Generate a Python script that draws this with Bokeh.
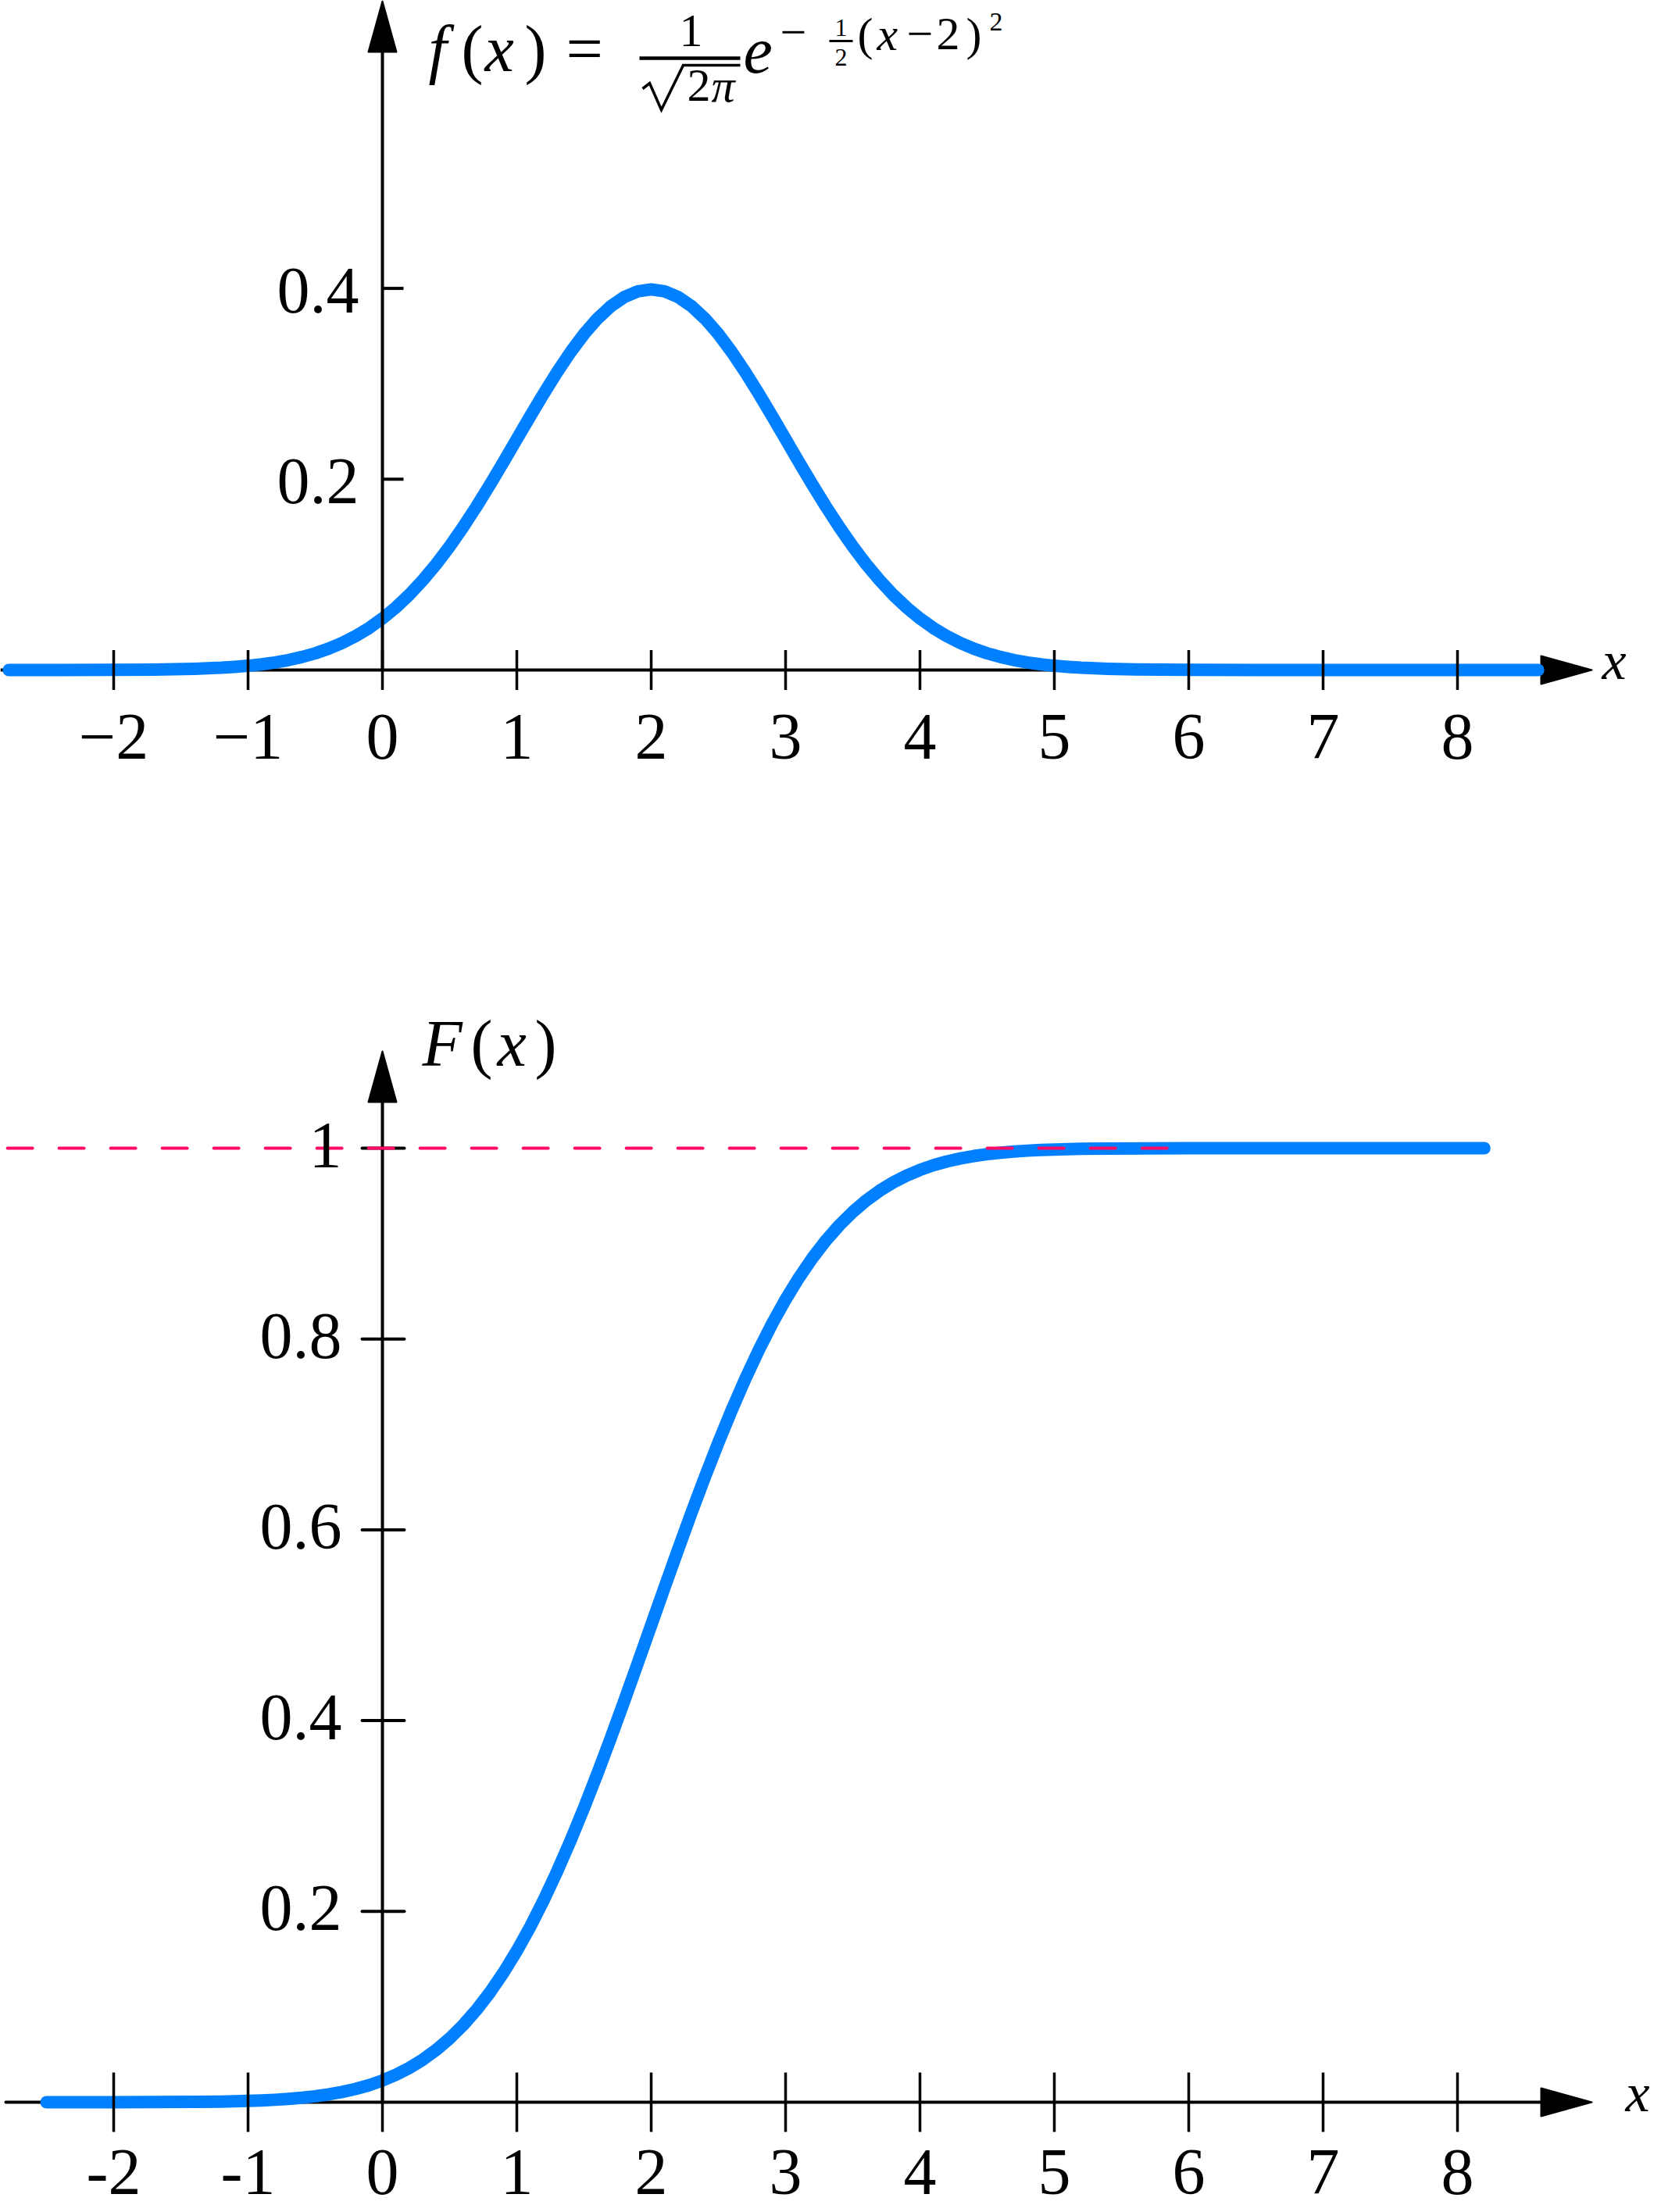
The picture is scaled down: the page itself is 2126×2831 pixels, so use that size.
from bokeh.plotting import figure
from bokeh.models import Range1d
from bokeh.embed import file_html
from bokeh.resources import INLINE
from bokeh.core.properties import value

# ---------------- data ----------------
pdf_x = [-2.78, -2.4, -2.0, -1.7, -1.4, -1.2, -1.1,
         -1.0, -0.9, -0.8, -0.7, -0.6, -0.5, -0.4, -0.3, -0.2, -0.1,
         0.0, 0.1, 0.2, 0.3, 0.4, 0.5, 0.6, 0.7, 0.8, 0.9,
         1.0, 1.1, 1.2, 1.3, 1.4, 1.5, 1.6, 1.7, 1.8, 1.9,
         2.0, 2.1, 2.2, 2.3, 2.4, 2.5, 2.6, 2.7, 2.8, 2.9,
         3.0, 3.1, 3.2, 3.3, 3.4, 3.5, 3.6, 3.7, 3.8, 3.9,
         4.0, 4.1, 4.2, 4.3, 4.4, 4.5, 4.6, 4.7, 4.8, 4.9,
         5.0, 5.1, 5.2, 5.4, 5.6, 6.0, 6.5, 7.0, 8.6]
pdf_y = [0.0, 0.00003, 0.00013, 0.00042, 0.00123, 0.00238, 0.00327,
         0.00443, 0.00595, 0.00792, 0.01042, 0.01358, 0.01753, 0.02239, 0.02833, 0.03547, 0.04398,
         0.05399, 0.06562, 0.07895, 0.09405, 0.11092, 0.12952, 0.14973, 0.17137, 0.19419, 0.21785,
         0.24197, 0.26609, 0.28969, 0.31225, 0.33322, 0.35207, 0.36827, 0.38139, 0.39104, 0.39695,
         0.39894, 0.39695, 0.39104, 0.38139, 0.36827, 0.35207, 0.33322, 0.31225, 0.28969, 0.26609,
         0.24197, 0.21785, 0.19419, 0.17137, 0.14973, 0.12952, 0.11092, 0.09405, 0.07895, 0.06562,
         0.05399, 0.04398, 0.03547, 0.02833, 0.02239, 0.01753, 0.01358, 0.01042, 0.00792, 0.00595,
         0.00443, 0.00327, 0.00238, 0.00123, 0.00061, 0.00013, 0.00002, 0.0, 0.0]

cdf_x = [-2.5, -2.0, -1.7, -1.4, -1.2, -1.1,
         -1.0, -0.9, -0.8, -0.7, -0.6, -0.5, -0.4, -0.3, -0.2, -0.1,
         0.0, 0.1, 0.2, 0.3, 0.4, 0.5, 0.6, 0.7, 0.8, 0.9,
         1.0, 1.1, 1.2, 1.3, 1.4, 1.5, 1.6, 1.7, 1.8, 1.9,
         2.0, 2.1, 2.2, 2.3, 2.4, 2.5, 2.6, 2.7, 2.8, 2.9,
         3.0, 3.1, 3.2, 3.3, 3.4, 3.5, 3.6, 3.7, 3.8, 3.9,
         4.0, 4.1, 4.2, 4.3, 4.4, 4.5, 4.6, 4.7, 4.8, 4.9,
         5.0, 5.1, 5.2, 5.4, 5.7, 6.0, 6.5, 8.2]
cdf_y = [0.0, 0.00003, 0.00011, 0.00034, 0.00069, 0.00097,
         0.00135, 0.00187, 0.00256, 0.00347, 0.00466, 0.00621, 0.00820, 0.01072, 0.01390, 0.01786,
         0.02275, 0.02872, 0.03593, 0.04457, 0.05480, 0.06681, 0.08076, 0.09680, 0.11507, 0.13567,
         0.15866, 0.18406, 0.21186, 0.24196, 0.27425, 0.30854, 0.34458, 0.38209, 0.42074, 0.46017,
         0.50000, 0.53983, 0.57926, 0.61791, 0.65542, 0.69146, 0.72575, 0.75804, 0.78814, 0.81594,
         0.84134, 0.86433, 0.88493, 0.90320, 0.91924, 0.93319, 0.94520, 0.95543, 0.96407, 0.97128,
         0.97725, 0.98214, 0.98610, 0.98928, 0.99180, 0.99379, 0.99534, 0.99653, 0.99744, 0.99813,
         0.99865, 0.99903, 0.99931, 0.99966, 0.99989, 0.99997, 1.0, 1.0]

x_ticks = [-2, -1, 0, 1, 2, 3, 4, 5, 6, 7, 8]
x_labels_top = ["\u22122", "\u22121", "0", "1", "2", "3", "4", "5", "6", "7", "8"]
x_labels_bottom = ["-2", "-1", "0", "1", "2", "3", "4", "5", "6", "7", "8"]
pdf_y_ticks = [0.2, 0.4]
pdf_y_labels = ["0.2", "0.4"]
cdf_y_ticks = [0.2, 0.4, 0.6, 0.8, 1.0]
cdf_y_labels = ["0.2", "0.4", "0.6", "0.8", "1"]
limit_level = [1.0, 1.0]
limit_x = [-2.79, 5.84]

# ---------------- geometry (page pixels) ----------------
W, H = 2126, 2831
OX, OY = 0, 0
X0 = 489.0     # page x of x = 0
UX = 172.0     # px per x unit
TY0 = 857.0    # page y of f = 0
BY0 = 2690.0   # page y of F = 0
UY = 1221.0    # px per y unit
BSHIFT = 0.38  # text baseline correction (fraction of font size)

def X(px):
    return (px - X0) / UX

def YT(py):
    return (TY0 - py) / UY

def YB(py):
    return (BY0 - py) / UY

def DX(d):
    return d / UX

def DY(d):
    return d / UY

FONT = value("Liberation Serif")
BLUE = "#0080ff"
PINK = "#ff0a66"

p = figure(width=W, height=H,
           x_range=Range1d(X(OX), X(OX + W)),
           y_range=Range1d(YT(OY + H), YT(OY)),
           output_backend="svg", toolbar_location=None,
           x_axis_location=None, y_axis_location=None,
           min_border=0, background_fill_color="white",
           border_fill_color="white")
p.extra_y_ranges = {"cdf": Range1d(YB(OY + H), YB(OY))}
p.grid.visible = False
p.outline_line_color = None

def txt(xpx, base_py, s, size, italic=False, align="left", rng="default"):
    py = base_py - BSHIFT * size
    y = YT(py) if rng == "default" else YB(py)
    p.text(x=[X(xpx)], y=[y], text=[s], text_font=FONT, text_font_size=f"{size}px",
           text_font_style="italic" if italic else "normal",
           text_align=align, text_baseline="alphabetic", text_color="black",
           y_range_name=rng)

# ---------- x-axis lines (under the curves) ----------
p.segment(x0=[X(0)], y0=[0], x1=[X(1972)], y1=[0], line_color="black", line_width=4)
p.segment(x0=[X(7)], y0=[0], x1=[X(1972)], y1=[0], line_color="black", line_width=4,
          line_cap="round", y_range_name="cdf")

# ---------- arrow heads ----------
AL, AH = 65, 18
p.patch(x=[X(1972), X(1972 + AL), X(1972)], y=[DY(AH), 0, -DY(AH)],
        fill_color="black", line_color="black", line_width=2, line_join="round")
p.patch(x=[X(1972), X(1972 + AL), X(1972)], y=[DY(AH), 0, -DY(AH)],
        fill_color="black", line_color="black", line_width=2, line_join="round",
        y_range_name="cdf")
p.patch(x=[-DX(AH), 0, DX(AH)], y=[YT(66), YT(1), YT(66)],
        fill_color="black", line_color="black", line_width=2, line_join="round")
p.patch(x=[-DX(AH), 0, DX(AH)], y=[YB(1410), YB(1345), YB(1410)],
        fill_color="black", line_color="black", line_width=2, line_join="round",
        y_range_name="cdf")

# ---------- curves ----------
p.line(pdf_x, pdf_y, line_color=BLUE, line_width=16, line_cap="round", line_join="round")
p.line(cdf_x, cdf_y, line_color=BLUE, line_width=16, line_cap="round", line_join="round",
       y_range_name="cdf")

# ---------- y-axis lines and ticks ----------
p.segment(x0=[0], y0=[YT(66)], x1=[0], y1=[0], line_color="black", line_width=4)
p.segment(x0=[0], y0=[YB(1410)], x1=[0], y1=[0], line_color="black", line_width=4,
          y_range_name="cdf")

n = len(x_ticks)
p.segment(x0=x_ticks, y0=[DY(25.5)] * n, x1=x_ticks, y1=[-DY(25.5)] * n,
          line_color="black", line_width=3.5)
p.segment(x0=x_ticks, y0=[DY(38)] * n, x1=x_ticks, y1=[-DY(38)] * n,
          line_color="black", line_width=3.5, y_range_name="cdf")
p.segment(x0=[0] * len(pdf_y_ticks), y0=pdf_y_ticks, x1=[X(516)] * len(pdf_y_ticks),
          y1=pdf_y_ticks, line_color="black", line_width=4)
p.segment(x0=[X(463)] * len(cdf_y_ticks), y0=cdf_y_ticks, x1=[X(517)] * len(cdf_y_ticks),
          y1=cdf_y_ticks, line_color="black", line_width=4, line_cap="round",
          y_range_name="cdf")

# ---------- limit line F = 1 ----------
p.line(limit_x, limit_level, line_color=PINK, line_width=4, line_dash="32 34",
       line_cap="round", y_range_name="cdf")

# ---------- tick labels ----------
LS = 84
p.text(x=x_ticks, y=[YT(974 - BSHIFT * LS)] * n, text=x_labels_top, text_font=FONT,
       text_font_size=f"{LS}px", text_align="center", text_baseline="alphabetic",
       text_color="black")
p.text(x=x_ticks, y=[YB(2811 - BSHIFT * LS)] * n, text=x_labels_bottom, text_font=FONT,
       text_font_size=f"{LS}px", text_align="center", text_baseline="alphabetic",
       text_color="black", y_range_name="cdf")
p.text(x=[X(459)] * len(pdf_y_ticks),
       y=[t - DY(35 - BSHIFT * LS) for t in pdf_y_ticks], text=pdf_y_labels,
       text_font=FONT, text_font_size=f"{LS}px", text_align="right",
       text_baseline="alphabetic", text_color="black")
p.text(x=[X(437)] * len(cdf_y_ticks),
       y=[t - DY(28 - BSHIFT * LS) for t in cdf_y_ticks], text=cdf_y_labels,
       text_font=FONT, text_font_size=f"{LS}px", text_align="right",
       text_baseline="alphabetic", text_color="black", y_range_name="cdf")

# ---------- axis names ----------
txt(2050, 872, "x", 70, italic=True)
txt(2080, 2705, "x", 70, italic=True, rng="cdf")

txt(540, 1367, "F", 84, italic=True, rng="cdf")
txt(602, 1367, "(", 84, rng="cdf")
txt(636, 1367, "x", 84, italic=True, rng="cdf")
txt(684, 1367, ")", 84, rng="cdf")

# ---------- formula f(x) = 1/sqrt(2 pi) e^{-1/2 (x-2)^2} ----------
BL = 94
txt(548, BL, "f", 84, italic=True)
txt(590, BL, "(", 84)
txt(620, BL, "x", 84, italic=True)
txt(671, BL, ")", 84)
txt(724, BL, "=", 84)
txt(884, 62, "1", 60, align="center")
p.segment(x0=[X(818)], y0=[YT(74)], x1=[X(947)], y1=[YT(74)], line_color="black", line_width=4.5)
# radical sign drawn as strokes
p.line(x=[X(822), X(831), X(846), X(874), X(947)],
       y=[YT(113), YT(106), YT(140), YT(83), YT(83)],
       line_color="black", line_width=3.5, line_join="miter")
txt(879, 132, "2", 60)
txt(910, 132, "\u03c0", 60, italic=True)
txt(951, BL + 2, "e", 84, italic=True)
txt(998, 64, "\u2212", 60)
txt(1076, 47, "1", 32, align="center")
p.segment(x0=[X(1061)], y0=[YT(52)], x1=[X(1091)], y1=[YT(52)], line_color="black", line_width=3)
txt(1076, 85, "2", 32, align="center")
txt(1097, 66, "(", 60)
txt(1122, 66, "x", 60, italic=True)
txt(1160, 66, "\u2212", 60)
txt(1198, 66, "2", 60)
txt(1236, 66, ")", 60)
txt(1266, 40, "2", 34)

open("out.html", "w").write(file_html(p, INLINE))
